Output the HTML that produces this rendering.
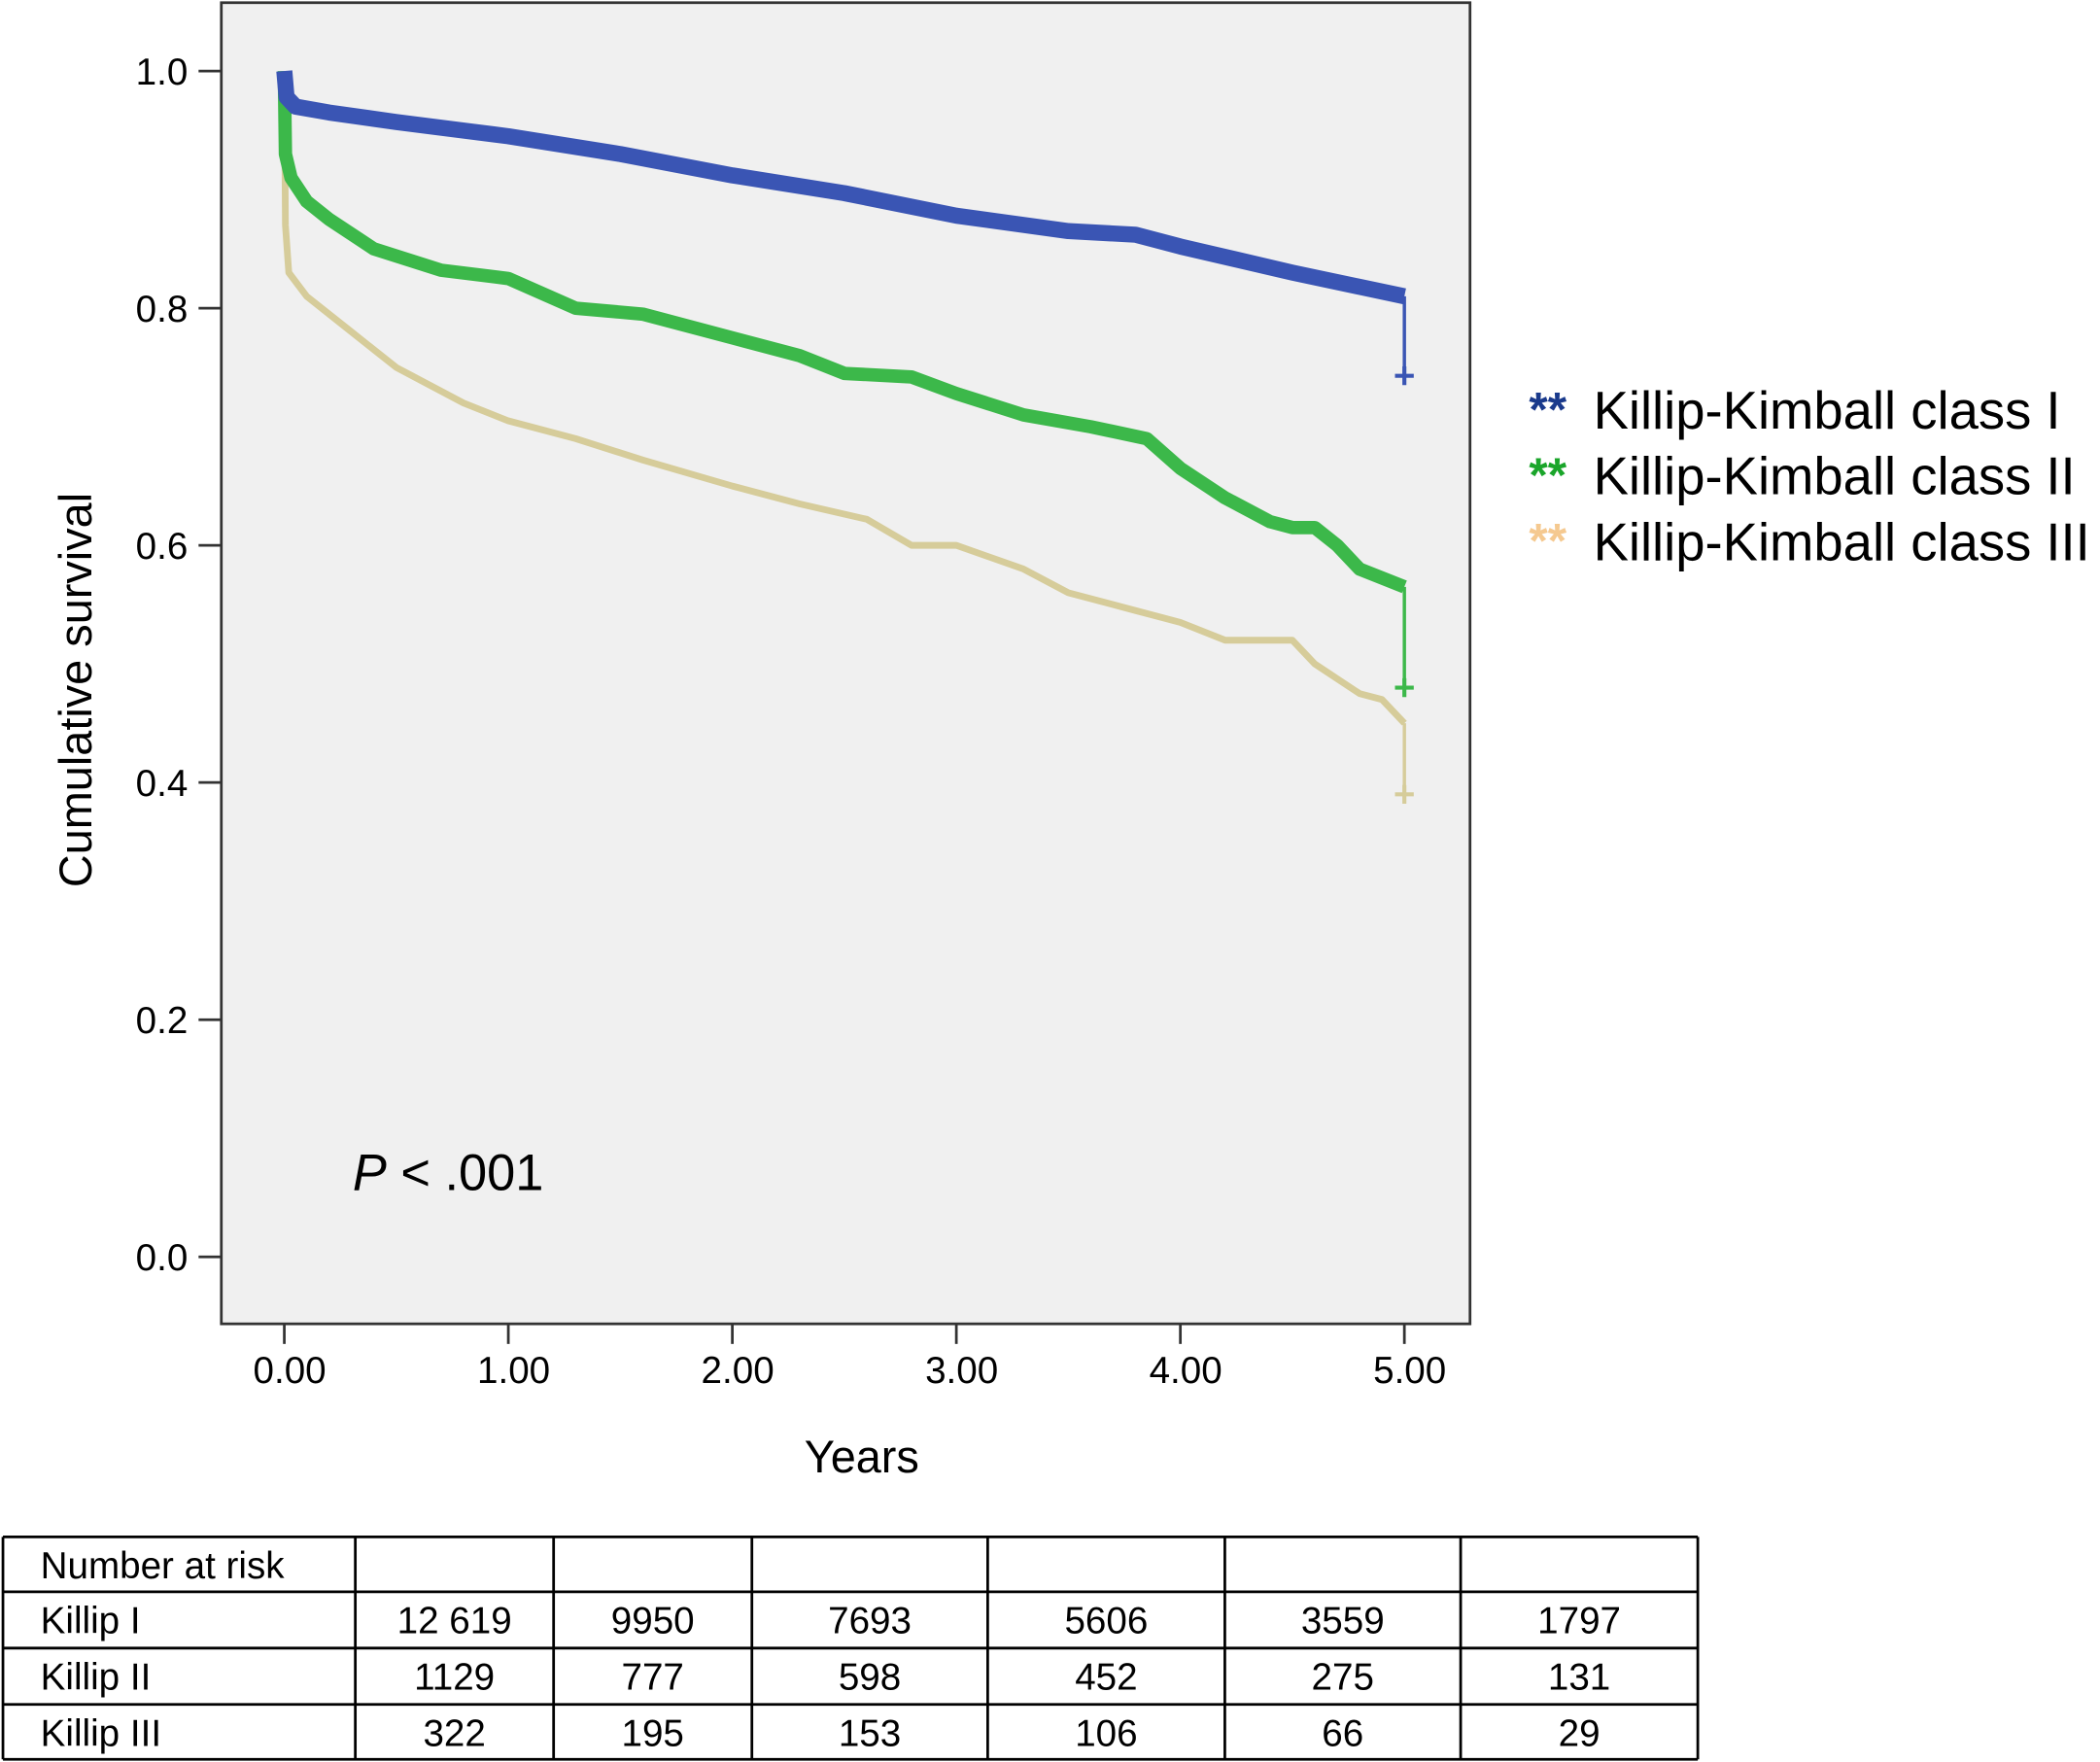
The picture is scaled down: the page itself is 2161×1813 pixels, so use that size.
<!DOCTYPE html>
<html><head><meta charset="utf-8"><style>
html,body{margin:0;padding:0;background:#fff;}
svg{display:block;font-family:"Liberation Sans",Arial,sans-serif;}
</style></head><body>
<svg id="c" width="2161" height="1813" viewBox="0 0 1567 1315">
<rect x="165" y="2" width="932" height="986" fill="#f0f0f0" stroke="#333" stroke-width="2"/>
<g id="axes"></g>
<g id="curves"></g>
<text x="263" y="888" font-size="38"><tspan font-style="italic">P</tspan> &lt; .001</text>
<text x="68" y="515" font-size="34" transform="rotate(-90 68 515)" text-anchor="middle">Cumulative survival</text>
<text x="643" y="1099" font-size="34" text-anchor="middle">Years</text>
<g font-size="39.5">
<g><text x="1141" y="318" fill="#1a3a8c" font-weight="bold" font-size="36">**</text><text x="1189" y="320">Killip-Kimball class I</text></g>
<g><text x="1141" y="367" fill="#1aa52a" font-weight="bold" font-size="36">**</text><text x="1189" y="369">Killip-Kimball class II</text></g>
<g><text x="1141" y="416" fill="#f5c990" font-weight="bold" font-size="36">**</text><text x="1189" y="418">Killip-Kimball class III</text></g>
</g>
<g id="table"></g>
</svg>
<script>
const xTicks=[0,1,2,3,4,5];
const xTickLabels=["0.00","1.00","2.00","3.00","4.00","5.00"];
const yTicks=[0,0.2,0.4,0.6,0.8,1.0];
const yTickLabels=["0.0","0.2","0.4","0.6","0.8","1.0"];
const t1=[0,0.01,0.05,0.2,0.5,1,1.5,2,2.5,3,3.5,3.8,4,4.5,5];
const s1=[1,0.978,0.97,0.965,0.957,0.945,0.93,0.912,0.897,0.878,0.865,0.862,0.852,0.83,0.81];
const end1=0.743;
const t2=[0,0.005,0.03,0.1,0.2,0.4,0.7,1,1.3,1.6,2,2.3,2.5,2.8,3,3.3,3.6,3.85,4,4.2,4.4,4.5,4.6,4.7,4.8,5];
const s2=[1,0.93,0.91,0.89,0.875,0.85,0.832,0.825,0.8,0.795,0.775,0.76,0.745,0.742,0.728,0.71,0.7,0.69,0.665,0.64,0.62,0.615,0.615,0.6,0.58,0.565];
const end2=0.48;
const t3=[0,0.005,0.02,0.1,0.3,0.5,0.8,1,1.3,1.6,2,2.3,2.6,2.8,3,3.3,3.5,3.8,4,4.2,4.5,4.6,4.8,4.9,5];
const s3=[1,0.87,0.83,0.81,0.78,0.75,0.72,0.705,0.69,0.672,0.65,0.635,0.622,0.6,0.6,0.58,0.56,0.545,0.535,0.52,0.52,0.5,0.475,0.47,0.45];
const end3=0.39;
const rowNames=["Killip I","Killip II","Killip III"];
const risk1=["12 619","9950","7693","5606","3559","1797"];
const risk2=["1129","777","598","452","275","131"];
const risk3=["322","195","153","106","66","29"];

const NS="http://www.w3.org/2000/svg";
const X=t=>212+t*167.2, Y=s=>938-s*885;
function mk(tag,attrs,parent,txt){const e=document.createElementNS(NS,tag);for(const k in attrs)e.setAttribute(k,attrs[k]);if(txt!==undefined)e.textContent=txt;parent.appendChild(e);return e;}
const ax=document.getElementById('axes');
xTicks.forEach((t,i)=>{
 const l=mk('line',{x1:X(t),x2:X(t),y1:988,y2:1003,stroke:'#333','stroke-width':2},ax);
 
 
 const tx=mk('text',{x:X(t)+4,y:1032,'font-size':28,'text-anchor':'middle'},ax,xTickLabels[i]);
 
 
});
yTicks.forEach((v,i)=>{
 const l=mk('line',{x1:148,x2:165,y1:Y(v),y2:Y(v),stroke:'#333','stroke-width':2},ax);
 
 
 const tx=mk('text',{x:140,y:Y(v)+10,'font-size':28,'text-anchor':'end'},ax,yTickLabels[i]);
 
 
});
const cg=document.getElementById('curves');
function curve(ts,ss,end,color,w,name){
 let d='M'+X(ts[0])+','+Y(ss[0]);
 for(let i=1;i<ts.length;i++){d+=' L'+X(ts[i])+','+Y(ss[i]);}
 const p=mk('path',{d:d,fill:'none',stroke:color,'stroke-width':w,'stroke-linejoin':'round'},cg);
 
 
 const last=ts[ts.length-1];
 const v=mk('path',{d:'M'+X(last)+','+Y(ss[ss.length-1])+' V'+Y(end),stroke:color,'stroke-width':2.5,fill:'none'},cg);
 
 
 const m=mk('path',{d:'M'+(X(last)-7)+','+Y(end)+' h14 M'+X(last)+','+(Y(end)-7)+' v14',stroke:color,'stroke-width':3},cg);
 
 
}
curve(t3,s3,end3,'#d6cc9a',5,'curve-class-iii');
curve(t2,s2,end2,'#3cb84a',10,'curve-class-ii');
curve(t1,s1,end1,'#3a55b4',12,'curve-class-i');

const tb=document.getElementById('table');
const colX=[2,265,413,561,737,914,1090,1267];
const rowY=[1147,1188,1230,1272,1313];
rowY.forEach(y=>{const l=mk('line',{x1:2,x2:1267,y1:y,y2:y,stroke:'#000','stroke-width':2},tb);
 
 });
colX.forEach(x=>{const l=mk('line',{x1:x,x2:x,y1:1147,y2:1313,stroke:'#000','stroke-width':2},tb);
 
 });
const h=mk('text',{x:30,y:1178,'font-size':28},tb,'Number at risk');


[risk1,risk2,risk3].forEach((row,r)=>{
 const y=rowY[r+1]+31;
 const n=mk('text',{x:30,y:y,'font-size':28},tb,rowNames[r]);
 
 
 row.forEach((v,c)=>{
  const t=mk('text',{x:(colX[c+1]+colX[c+2])/2,y:y,'font-size':28,'text-anchor':'middle'},tb,v);
  
  
 });
});
</script>
</body></html>
